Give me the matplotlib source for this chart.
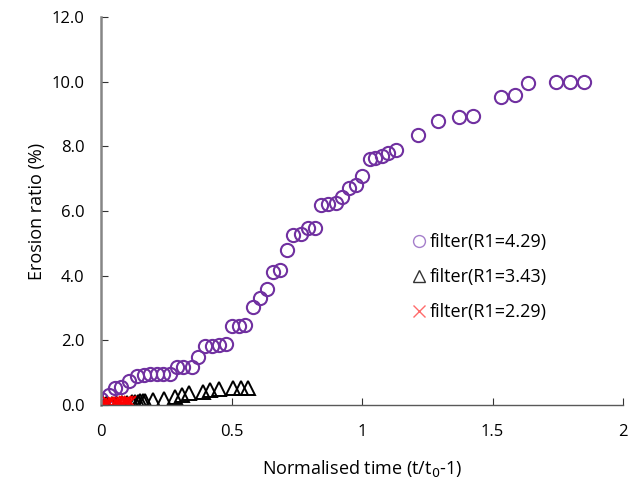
import matplotlib.pyplot as plt
from matplotlib.ticker import FormatStrFormatter

plt.rcParams['font.family'] = ['Open Sans', 'DejaVu Sans']

# filter R1=4.29 (purple circles)
x_429 = [0.0, 0.03, 0.054, 0.078, 0.105, 0.137, 0.163, 0.188, 0.213, 0.239, 0.265,
         0.29, 0.315, 0.347, 0.37, 0.397, 0.425, 0.451, 0.478, 0.501, 0.527, 0.553,
         0.581, 0.608, 0.636, 0.66, 0.687, 0.713, 0.737, 0.766, 0.794, 0.82,
         0.843, 0.871, 0.899, 0.925, 0.95, 0.975, 1.0, 1.03, 1.05, 1.075, 1.1, 1.13,
         1.215, 1.29, 1.372, 1.425, 1.533, 1.586, 1.636, 1.743, 1.797, 1.851]
y_429 = [0.2, 0.3, 0.52, 0.55, 0.75, 0.9, 0.92, 0.95, 0.96, 0.97, 0.97,
         1.19, 1.19, 1.19, 1.5, 1.83, 1.84, 1.86, 1.89, 2.44, 2.44, 2.47,
         3.03, 3.3, 3.58, 4.13, 4.19, 4.78, 5.26, 5.28, 5.49, 5.49,
         6.18, 6.22, 6.24, 6.45, 6.7, 6.8, 7.1, 7.6, 7.65, 7.7, 7.8, 7.9,
         8.35, 8.78, 8.9, 8.94, 9.53, 9.59, 9.96, 10.0, 10.0, 10.0]

# filter R1=3.43 (black triangles)
x_343 = [0.02, 0.04, 0.06, 0.08, 0.1, 0.12, 0.13, 0.14, 0.15, 0.16, 0.17, 0.2,
         0.24, 0.283, 0.309, 0.335, 0.392, 0.418, 0.45, 0.507, 0.535, 0.564]
y_343 = [0.02, 0.03, 0.04, 0.05, 0.06, 0.08, 0.09, 0.1, 0.11, 0.12, 0.12, 0.15,
         0.2, 0.26, 0.31, 0.36, 0.41, 0.46, 0.51, 0.52, 0.52, 0.52]

# filter R1=2.29 (red crosses)
x_229 = [0.0, 0.01, 0.02, 0.03, 0.05, 0.06, 0.07, 0.08, 0.09, 0.1, 0.11]
y_229 = [0.02, 0.03, 0.04, 0.05, 0.05, 0.06, 0.07, 0.07, 0.08, 0.08, 0.09]

labels = ['filter(R1=4.29)', 'filter(R1=3.43)', 'filter(R1=2.29)']

fig = plt.figure(figsize=(6.28, 4.86), dpi=100)
ax = fig.add_axes([0.161, 0.1667, 0.831, 0.798])

ax.plot(x_429, y_429, 'o', ms=9.5, mfc='none', mec='#7030A0', mew=1.5, label=labels[0])
ax.plot(x_343, y_343, '^', ms=10, mfc='none', mec='black', mew=1.4, label=labels[1])
ax.plot(x_229, y_229, 'x', ms=9, color='red', mew=1.4, label=labels[2])

ax.set_xlim(0, 2)
ax.set_ylim(0, 12)
ax.set_xticks([0, 0.5, 1, 1.5, 2])
ax.set_xticklabels(['0', '0.5', '1', '1.5', '2'])
ax.set_yticks(range(0, 13, 2))
ax.yaxis.set_major_formatter(FormatStrFormatter('%.1f'))

for s in ['top', 'right']:
    ax.spines[s].set_visible(False)
ax.spines['left'].set_color('#868686')
ax.spines['left'].set_linewidth(1.8)
ax.spines['bottom'].set_color('#595959')
ax.spines['bottom'].set_linewidth(1.0)

ax.tick_params(axis='y', direction='in', length=5, color='#333333', labelsize=12, pad=12)
ax.tick_params(axis='x', direction='in', length=5, color='#333333', labelsize=12, pad=14)

ax.set_xlabel('Normalised time (t/t$_0$-1)', fontsize=13, labelpad=13)
ax.set_ylabel('Erosion ratio (%)', fontsize=13, labelpad=4)

leg = ax.legend(loc='center left', bbox_to_anchor=(0.58, 0.33), frameon=False,
                fontsize=13, markerscale=0.9, labelspacing=0.95, handlelength=0.7,
                handletextpad=0.25, borderpad=0)
for h, c in zip(leg.legend_handles, ['#A57FCB', '#333333', '#FF6B6B']):
    h.set_markeredgecolor(c)
    h.set_markeredgewidth(1.0)

fig.savefig('out.png', dpi=100)
